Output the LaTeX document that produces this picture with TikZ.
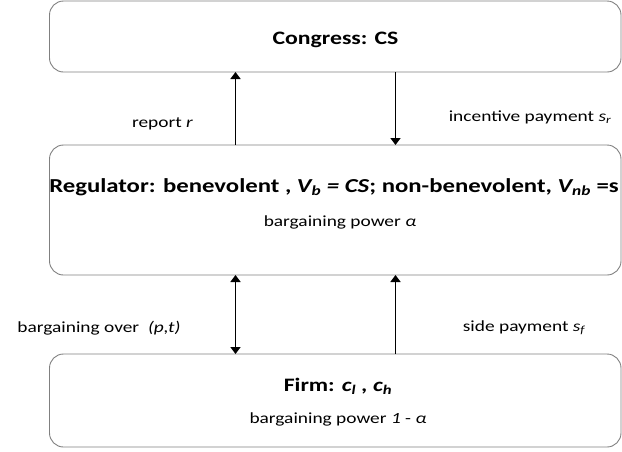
\documentclass[tikz,border=0pt]{standalone}
\usepackage{fontspec}
\setmainfont{Carlito}[FakeStretch=1.25]
\usetikzlibrary{arrows.meta}
\begin{document}
\begin{tikzpicture}[x=1pt,y=-1pt,
  box/.style={draw=black!50,line width=0.9pt,rounded corners=14pt},
  tip/.tip={Triangle[length=7pt,width=10pt]},
  arr/.style={line width=1.5pt,-tip},
  darr/.style={line width=1.5pt,tip-tip},
  lbl/.style={font=\fontsize{15.5}{18}\selectfont,inner sep=0pt,anchor=base},
  ttl/.style={font=\bfseries\fontsize{19}{22}\selectfont,inner sep=0pt,anchor=base}]
\useasboundingbox (0,0) rectangle (622,451);
\draw[box] (49.5,1) rectangle (621,72);
\draw[box] (49.5,145) rectangle (621,275);
\draw[box] (49.5,354) rectangle (621,447);
\coordinate (t1) at (235.5,72); \coordinate (t2) at (395.5,72);
\coordinate (m1) at (235.5,145); \coordinate (m2) at (395.5,145);
\coordinate (m3) at (235.5,275); \coordinate (m4) at (395.5,275);
\coordinate (b1) at (235.5,354); \coordinate (b2) at (395.5,354);
\draw[arr] (m1) -- (t1);
\draw[arr] (t2) -- (m2);
\draw[darr] (m3) -- (b1);
\draw[arr] (b2) -- (m4);
\node[ttl] (cong) at (335.5,44.7) {Congress: CS};
\node[ttl,font=\bfseries\fontsize{19.8}{22}\selectfont] (reg) at (334,192) {Regulator: benevolent , \textit{V\textsubscript{b} = CS}; non-benevolent, \textit{V\textsubscript{nb}} =s};
\node[lbl] (rbp) at (340,226) {bargaining power \textit{α}};
\node[ttl] (firm) at (338,391) {Firm: \textit{c\textsubscript{l} , c\textsubscript{h}}};
\node[lbl] (fbp) at (338,423) {bargaining power \textit{1} - \textit{α}};
\node[lbl] (rep) at (162.5,127) {report \textit{r}};
\node[lbl] (inc) at (530,121) {incentive payment \textit{s\textsubscript{r}}};
\node[lbl] (barg) at (99,332) {bargaining over \ \textit{(p,t)}};
\node[lbl] (side) at (524,331) {side payment \textit{s\textsubscript{f}}};
\end{tikzpicture}
\end{document}
